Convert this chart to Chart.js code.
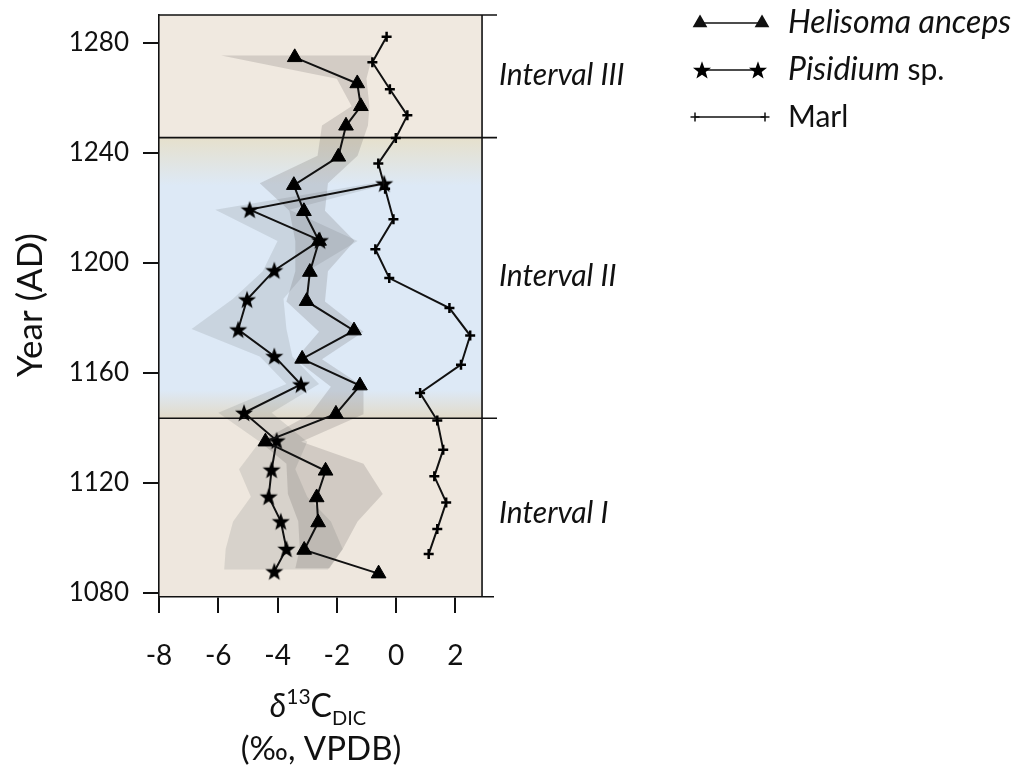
<!DOCTYPE html>
<html>
<head>
<meta charset="utf-8">
<script src="https://cdn.jsdelivr.net/npm/chart.js@4.4.0/dist/chart.umd.min.js"></script>
<style>
html, body { margin: 0; padding: 0; background: #fff; }
</style>
</head>
<body>
<canvas id="mycanvas" width="1018" height="768"></canvas>
<script>
// Helisoma anceps (triangles)
var heliYears = [1274.8, 1265.3, 1257, 1249.9, 1238.6, 1228.3, 1218.8, 1208, 1196.7, 1186.1, 1175.4, 1165.1, 1155.4, 1145.1, 1135, 1124.4, 1114.7, 1105.6, 1095.6, 1087];
var heliValues = [-3.42, -1.31, -1.19, -1.69, -1.95, -3.45, -3.11, -2.6, -2.91, -3.02, -1.42, -3.17, -1.22, -2.03, -4.41, -2.38, -2.68, -2.63, -3.10, -0.59];

// Pisidium sp. (stars)
var pisiYears = [1228.9, 1219.4, 1208.2, 1197.3, 1186.7, 1175.8, 1166.1, 1155.8, 1145.5, 1135.4, 1124.8, 1115, 1106, 1096, 1087.8];
var pisiValues = [-0.40, -4.94, -2.57, -4.11, -5.03, -5.33, -4.11, -3.21, -5.13, -4.03, -4.20, -4.30, -3.89, -3.70, -4.11];

// Marl (crosses)
var marlYears = [1282.3, 1273, 1263.2, 1253.7, 1245.5, 1236.2, 1227, 1215.9, 1205, 1194.5, 1183.6, 1173.6, 1163, 1152.7, 1142.7, 1132.1, 1122.4, 1112.9, 1103.2, 1094.1];
var marlValues = [-0.32, -0.80, -0.21, 0.38, -0.01, -0.60, -0.37, -0.09, -0.70, -0.23, 1.80, 2.50, 2.19, 0.81, 1.39, 1.59, 1.29, 1.69, 1.39, 1.10];

// grey uncertainty envelopes
var heliEnvYears = [1275.5, 1267, 1257, 1250, 1239, 1229, 1219, 1208, 1197, 1186, 1175, 1165, 1155, 1145, 1135, 1127, 1116, 1106, 1096, 1089];
var heliEnvLow = [-5.9, -2.0, -1.5, -2.5, -2.65, -4.6, -3.6, -3.4, -3.4, -3.7, -2.6, -3.4, -2.2, -2.9, -4.6, -3.7, -3.65, -3.3, -3.25, -3.4];
var heliEnvHigh = [-0.8, -1.0, -0.9, -0.95, -1.3, -2.3, -2.4, -1.4, -2.3, -2.4, -1.1, -2.5, -1.1, -1.1, -3.2, -1.1, -0.45, -1.3, -1.8, -2.25];

var pisiEnvYears = [1229, 1219.4, 1208, 1197, 1187, 1176, 1166, 1156, 1145.5, 1135, 1125, 1115, 1106, 1096, 1088.5];
var pisiEnvLow = [-0.8, -6.1, -4.0, -4.5, -5.5, -6.9, -4.6, -3.7, -6.0, -4.6, -5.3, -4.9, -5.5, -5.75, -5.8];
var pisiEnvHigh = [-0.2, -3.6, -1.3, -3.0, -3.8, -3.7, -3.5, -2.6, -4.2, -3.0, -3.4, -3.0, -2.2, -1.8, -2.3];

// interval boundaries (years) and labels
var intervalBounds = [1245.6, 1143.5];
var intervalNames = ["Interval III", "Interval II", "Interval I"];
var intervalLabelYears = [1268.3, 1195.1, 1109];

var yTicks = [1080, 1120, 1160, 1200, 1240, 1280];
var xTicks = [-8, -6, -4, -2, 0, 2];

var seriesNames = ["Helisoma anceps", "Pisidium", "Marl"];

var FONT = "Lato, 'Open Sans', sans-serif";
var BOX_RIGHT = 2.9;

function pts(xs, ys) {
	var out = [];
	for (var i = 0; i < xs.length; i++) out.push({x: xs[i], y: ys[i]});
	return out;
}

var starImg = (function(){
	var c = document.createElement('canvas');
	c.width = 20; c.height = 20;
	var g = c.getContext('2d');
	g.fillStyle = '#000';
	g.beginPath();
	for (var i = 0; i < 10; i++) {
		var r = i % 2 === 0 ? 9.5 : 3.9;
		var a = -Math.PI / 2 + i * Math.PI / 5;
		g.lineTo(10 + r * Math.cos(a), 10.8 + r * Math.sin(a));
	}
	g.closePath();
	g.fill();
	return c;
})();

var backgroundPlugin = {
	id: 'bg',
	beforeDraw: function(chart){
		var ctx = chart.ctx, xs = chart.scales.x, ys = chart.scales.y, ca = chart.chartArea;
		var l = ca.left, r = xs.getPixelForValue(BOX_RIGHT);
		var t = ca.top, b = ca.bottom;
		var y1 = ys.getPixelForValue(intervalBounds[0]);
		var y2 = ys.getPixelForValue(intervalBounds[1]);
		ctx.save();
		ctx.fillStyle = '#f0e9e0';
		ctx.fillRect(l, t, r - l, y1 - t);
		ctx.fillStyle = '#eee7de';
		ctx.fillRect(l, y2, r - l, b - y2);
		var g = ctx.createLinearGradient(0, y1, 0, y2);
		var h = y2 - y1;
		g.addColorStop(0, '#e6e0cc');
		g.addColorStop(Math.min(1, 48 / h), '#dde9f6');
		g.addColorStop(Math.max(0, 1 - 28 / h), '#dde9f6');
		g.addColorStop(1, '#e2dac9');
		ctx.fillStyle = g;
		ctx.fillRect(l, y1, r - l, h);
		ctx.restore();
	},
	beforeDatasetsDraw: function(chart){
		var ctx = chart.ctx, xs = chart.scales.x, ys = chart.scales.y, ca = chart.chartArea;
		function env(years, low, high, color) {
			ctx.beginPath();
			for (var i = 0; i < years.length; i++) ctx.lineTo(xs.getPixelForValue(low[i]), ys.getPixelForValue(years[i]));
			for (var j = years.length - 1; j >= 0; j--) ctx.lineTo(xs.getPixelForValue(high[j]), ys.getPixelForValue(years[j]));
			ctx.closePath();
			ctx.fillStyle = color;
			ctx.fill();
		}
		ctx.save();
		env(pisiEnvYears, pisiEnvLow, pisiEnvHigh, 'rgba(90,92,95,0.15)');
		env(heliEnvYears, heliEnvLow, heliEnvHigh, 'rgba(85,82,78,0.19)');

		// box and interval lines
		var r = xs.getPixelForValue(BOX_RIGHT);
		ctx.strokeStyle = '#111';
		ctx.lineWidth = 1.6;
		ctx.beginPath();
		ctx.moveTo(ca.left, ca.top); ctx.lineTo(ca.right + 4, ca.top);
		ctx.moveTo(r, ca.top); ctx.lineTo(r, ca.bottom);
		intervalBounds.forEach(function(v){
			var y = ys.getPixelForValue(v);
			ctx.moveTo(ca.left, y); ctx.lineTo(ca.right + 4, y);
		});
		ctx.stroke();
		ctx.restore();
	},
	afterDraw: function(chart){
		var ctx = chart.ctx, xs = chart.scales.x, ys = chart.scales.y, ca = chart.chartArea;
		ctx.save();
		ctx.fillStyle = '#111';

		// interval labels
		ctx.font = 'italic 30px ' + FONT;
		ctx.textBaseline = 'middle';
		ctx.textAlign = 'left';
		for (var i = 0; i < intervalNames.length; i++) {
			ctx.fillText(intervalNames[i], 499, ys.getPixelForValue(intervalLabelYears[i]));
		}

		// y title
		ctx.save();
		ctx.translate(31, 305);
		ctx.rotate(-Math.PI / 2);
		ctx.textAlign = 'center';
		ctx.textBaseline = 'middle';
		ctx.font = '35px ' + FONT;
		ctx.fillText('Year (AD)', 0, 0);
		ctx.restore();

		// x title: delta 13C DIC
		ctx.textBaseline = 'alphabetic';
		ctx.textAlign = 'left';
		var parts = [
			{t: 'δ', f: 'italic 32px ' + FONT, dy: 0},
			{t: '13', f: '21px ' + FONT, dy: -13},
			{t: 'C', f: '32px ' + FONT, dy: 0},
			{t: 'DIC', f: '20px ' + FONT, dy: 8}
		];
		var w = 0;
		parts.forEach(function(p){ ctx.font = p.f; w += ctx.measureText(p.t).width; });
		var x = 318 - w / 2;
		parts.forEach(function(p){ ctx.font = p.f; ctx.fillText(p.t, x, 717 + p.dy); x += ctx.measureText(p.t).width; });
		ctx.textAlign = 'center';
		ctx.font = '33px ' + FONT;
		ctx.fillText('(‰, VPDB)', 321, 760);

		// legend
		var rows = [23, 70, 117];
		ctx.strokeStyle = '#111';
		ctx.lineWidth = 1.5;
		var ends = [[700, 762], [702, 758], [695, 765]];
		for (var k = 0; k < 3; k++) {
			ctx.beginPath();
			ctx.moveTo(ends[k][0], rows[k]); ctx.lineTo(ends[k][1], rows[k]);
			ctx.stroke();
		}
		var triOpts = {pointStyle: 'triangle', radius: 7, borderWidth: 1, borderColor: '#000', backgroundColor: '#000', rotation: 0};
		var crossOpts = {pointStyle: 'cross', radius: 4.5, borderWidth: 2, borderColor: '#000', backgroundColor: '#000', rotation: 0};
		Chart.helpers.drawPoint(ctx, triOpts, ends[0][0], rows[0]);
		Chart.helpers.drawPoint(ctx, triOpts, ends[0][1], rows[0]);
		ctx.drawImage(starImg, ends[1][0] - 10, rows[1] - 10);
		ctx.drawImage(starImg, ends[1][1] - 10, rows[1] - 10);
		Chart.helpers.drawPoint(ctx, crossOpts, ends[2][0], rows[2]);
		Chart.helpers.drawPoint(ctx, crossOpts, ends[2][1], rows[2]);

		ctx.fillStyle = '#111';
		ctx.textAlign = 'left';
		ctx.textBaseline = 'middle';
		ctx.font = 'italic 32px ' + FONT;
		ctx.fillText(seriesNames[0], 788, rows[0]);
		ctx.fillText(seriesNames[1], 788, rows[1]);
		var pw = ctx.measureText(seriesNames[1]).width;
		ctx.font = '30px ' + FONT;
		ctx.fillText(' sp.', 788 + pw, rows[1]);
		ctx.fillText(seriesNames[2], 788, rows[2]);
		ctx.restore();
	}
};

var chartdata = {
	datasets: [
		{
			label: 'Marl',
			data: pts(marlValues, marlYears),
			showLine: true,
			borderColor: '#111',
			borderWidth: 2,
			pointStyle: 'cross',
			pointRadius: 5,
			pointBorderWidth: 2.5,
			pointBorderColor: '#000',
			backgroundColor: '#000',
			order: 1
		},
		{
			label: 'Pisidium sp.',
			data: pts(pisiValues, pisiYears),
			showLine: true,
			borderColor: '#111',
			borderWidth: 2,
			pointStyle: starImg,
			pointRadius: 9,
			backgroundColor: '#000',
			order: 2
		},
		{
			label: 'Helisoma anceps',
			data: pts(heliValues, heliYears),
			showLine: true,
			borderColor: '#111',
			borderWidth: 2,
			pointStyle: 'triangle',
			pointRadius: 8.5,
			pointBorderWidth: 1,
			pointBorderColor: '#000',
			pointBackgroundColor: '#000',
			backgroundColor: '#000',
			order: 0
		}
	]
};

var ctx = document.getElementById('mycanvas');

var LineGraph = new Chart(ctx, {
	type: 'scatter',
	data: chartdata,
	plugins: [backgroundPlugin],
	options: {
		responsive: false,
		animation: false,
		devicePixelRatio: 1,
		layout: { padding: { top: 15, right: 525, left: 0, bottom: 0 } },
		plugins: {
			legend: { display: false },
			tooltip: { enabled: false }
		},
		scales: {
			x: {
				type: 'linear',
				min: -8,
				max: 3.27,
				afterFit: function(s){ s.height = 171; s.paddingLeft = 0; s.paddingRight = 0; },
				afterBuildTicks: function(s){ s.ticks = xTicks.map(function(v){ return {value: v}; }); },
				ticks: { font: { family: FONT, size: 28 }, color: '#111', padding: 26, maxRotation: 0 },
				grid: { drawOnChartArea: false, tickLength: 16, color: '#111', lineWidth: 2 },
				border: { color: '#111', width: 1.6 }
			},
			y: {
				type: 'linear',
				min: 1078.5,
				max: 1290.2,
				afterFit: function(s){ s.width = 159; s.paddingTop = 0; s.paddingBottom = 0; },
				afterBuildTicks: function(s){ s.ticks = yTicks.map(function(v){ return {value: v}; }); },
				ticks: { font: { family: FONT, size: 26 }, color: '#111', padding: 14, callback: function(v){ return String(v); } },
				grid: { drawOnChartArea: false, tickLength: 16, color: '#111', lineWidth: 2 },
				border: { color: '#111', width: 1.6 }
			}
		}
	}
});
</script>
</body>
</html>
